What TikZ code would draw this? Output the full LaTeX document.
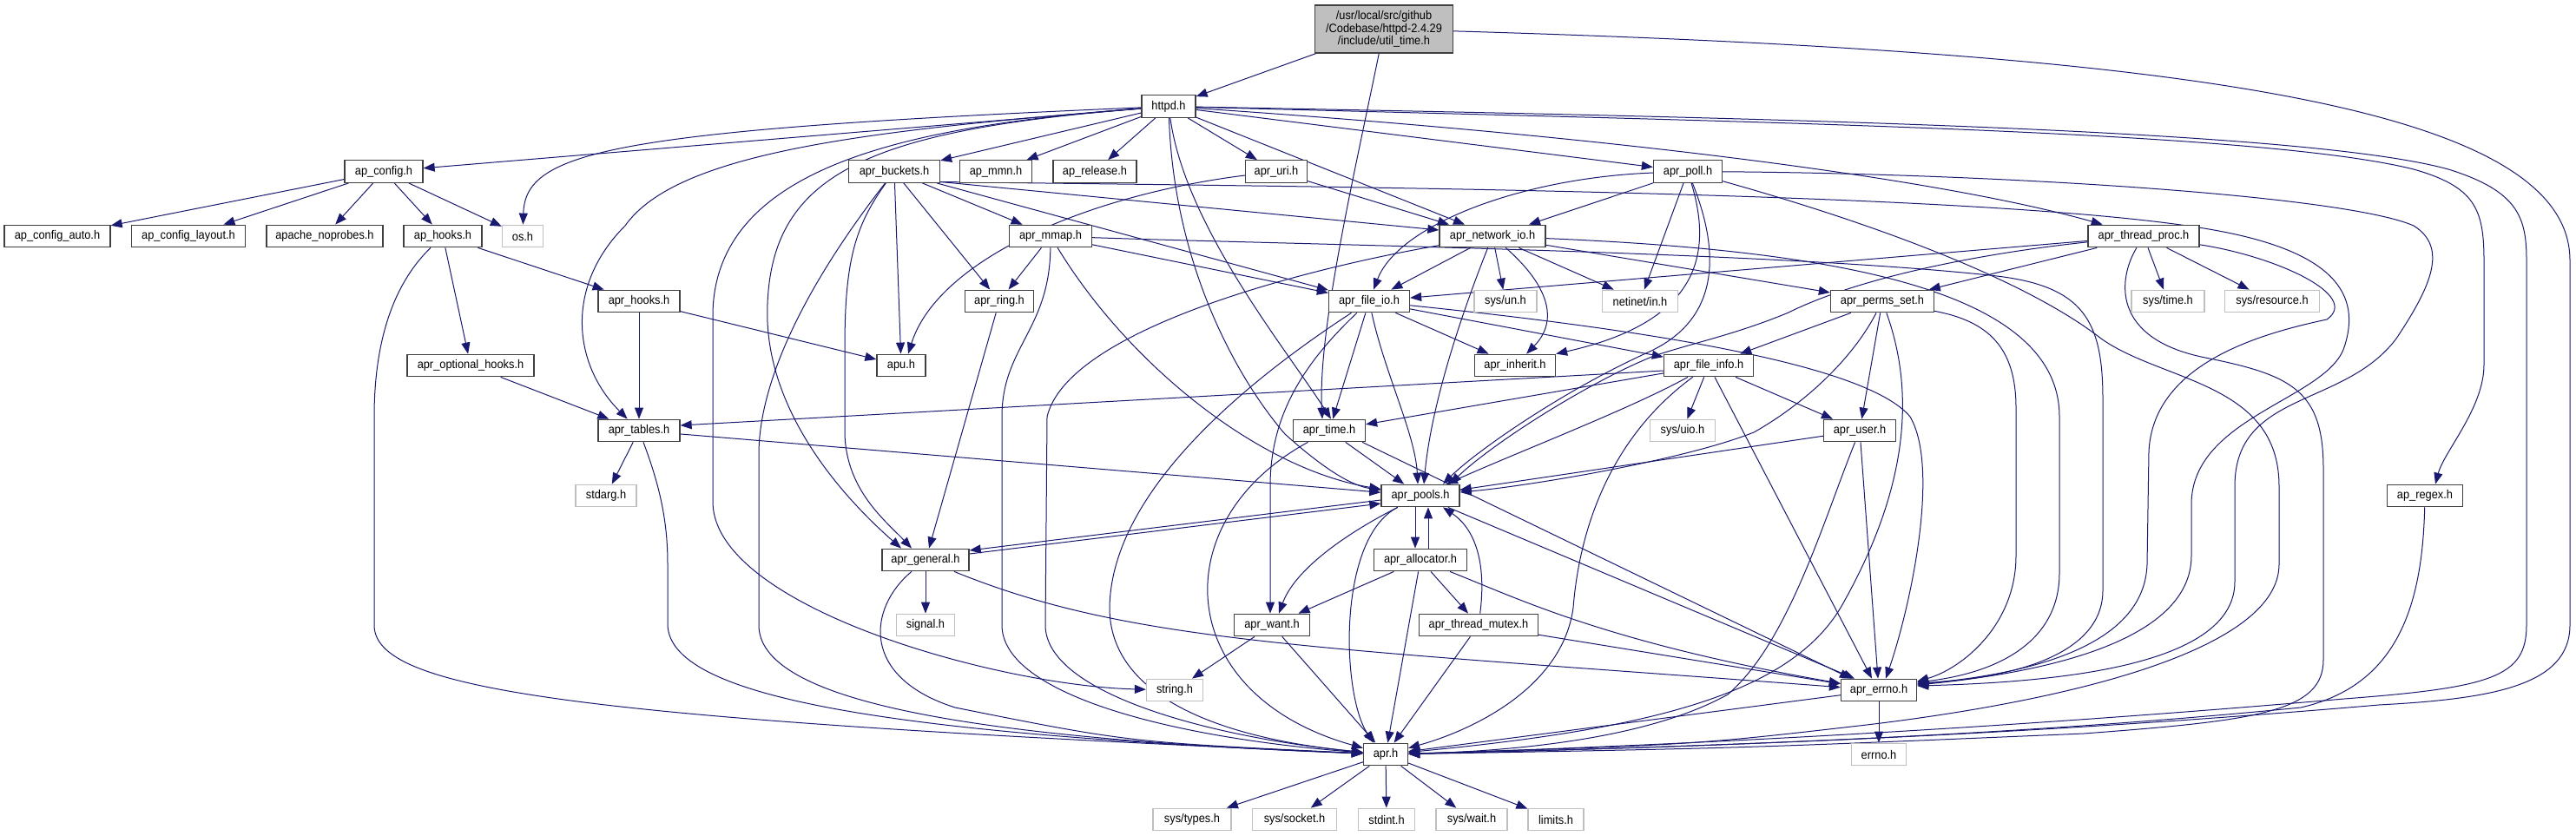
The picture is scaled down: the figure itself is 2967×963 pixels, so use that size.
\documentclass[tikz,border=0pt]{standalone}
\usepackage{fontspec}
\setmainfont{Liberation Sans}[FakeStretch=0.915]
\usetikzlibrary{arrows.meta}
\definecolor{edgec}{HTML}{191970}
\definecolor{grayb}{HTML}{BFBFBF}
\definecolor{boxb}{HTML}{404040}
\pgfdeclarelayer{bg}
\pgfdeclarelayer{edges}
\pgfsetlayers{bg,edges,main}
\tikzset{
  nb/.style={draw=boxb, line width=0.65pt, fill=white, minimum height=12.75pt, inner sep=0pt, font=\fontsize{7pt}{8pt}\selectfont, text=black},
  ng/.style={nb, draw=grayb},
  edg/.style={draw=edgec, line width=0.5pt, -{Triangle[length=6.5pt,width=5pt]}},
}
\begin{document}
\begin{tikzpicture}[x=0.5pt, y=-0.5pt]
\useasboundingbox (0,0) rectangle (2967,963);
\begin{pgfonlayer}{bg}
\fill[white] (0,0) rectangle (2967,963);
\end{pgfonlayer}
% ---------- nodes ----------
\node[nb, fill=grayb, minimum width=79.5pt, minimum height=27.5pt, align=center, font=\fontsize{7pt}{7.25pt}\selectfont] (ut) at (1594,33.5) {/usr/local/src/github\\/Codebase/httpd-2.4.29\\/include/util\_time.h};
\node[nb, minimum width=31pt] (httpd) at (1346,122.5) {httpd.h};
\node[nb, minimum width=45pt] (apconfig) at (442,197.5) {ap\_config.h};
\node[nb, minimum width=52.5pt] (aprbuckets) at (1030,197.5) {apr\_buckets.h};
\node[nb, minimum width=41.5pt] (apmmn) at (1147,197.5) {ap\_mmn.h};
\node[nb, minimum width=48pt] (aprelease) at (1261,197.5) {ap\_release.h};
\node[nb, minimum width=35.5pt] (apruri) at (1470,197.5) {apr\_uri.h};
\node[nb, minimum width=39.5pt] (aprpoll) at (1944,197.5) {apr\_poll.h};
\node[nb, minimum width=61pt] (apconfigauto) at (66,272) {ap\_config\_auto.h};
\node[nb, minimum width=65.5pt] (apconfiglayout) at (217,272) {ap\_config\_layout.h};
\node[nb, minimum width=67pt] (apachenoprobes) at (374,272) {apache\_noprobes.h};
\node[nb, minimum width=45pt] (aphooks) at (510,272) {ap\_hooks.h};
\node[ng, minimum width=23.5pt] (osh) at (602,272) {os.h};
\node[nb, minimum width=47.5pt] (aprmmap) at (1210,272) {apr\_mmap.h};
\node[nb, minimum width=61pt] (aprnetworkio) at (1719,272) {apr\_network\_io.h};
\node[nb, minimum width=64pt] (aprthreadproc) at (2469,272) {apr\_thread\_proc.h};
\node[nb, minimum width=47pt] (aprhooks) at (736,347) {apr\_hooks.h};
\node[nb, minimum width=39.5pt] (aprring) at (1151,347) {apr\_ring.h};
\node[nb, minimum width=46.5pt] (aprfileio) at (1577,347) {apr\_file\_io.h};
\node[ng, minimum width=36pt] (sysun) at (1734,347) {sys/un.h};
\node[ng, minimum width=43.5pt] (netinet) at (1889,347) {netinet/in.h};
\node[nb, minimum width=59.5pt] (aprpermsset) at (2168,347) {apr\_perms\_set.h};
\node[ng, minimum width=42pt] (systime) at (2497,347) {sys/time.h};
\node[ng, minimum width=54.5pt] (sysresource) at (2617,347) {sys/resource.h};
\node[nb, minimum width=73pt] (aproptionalhooks) at (542,421) {apr\_optional\_hooks.h};
\node[nb, minimum width=28pt] (apu) at (1038,421) {apu.h};
\node[nb, minimum width=46.5pt] (aprinherit) at (1745,421) {apr\_inherit.h};
\node[nb, minimum width=51.5pt] (aprfileinfo) at (1968,421) {apr\_file\_info.h};
\node[nb, minimum width=47pt] (aprtables) at (736,496) {apr\_tables.h};
\node[nb, minimum width=41.5pt] (aprtime) at (1531,496) {apr\_time.h};
\node[ng, minimum width=37.5pt] (sysuio) at (1938,496) {sys/uio.h};
\node[nb, minimum width=41.5pt] (apruser) at (2142,496) {apr\_user.h};
\node[ng, minimum width=35pt] (stdarg) at (698,571) {stdarg.h};
\node[nb, minimum width=45pt] (aprpools) at (1636,571) {apr\_pools.h};
\node[nb, minimum width=43.5pt] (apregex) at (2793,571) {ap\_regex.h};
\node[nb, minimum width=50pt] (aprgeneral) at (1066,645) {apr\_general.h};
\node[nb, minimum width=53.5pt] (aprallocator) at (1636,645) {apr\_allocator.h};
\node[ng, minimum width=33.5pt] (signal) at (1066,720) {signal.h};
\node[nb, minimum width=43.5pt] (aprwant) at (1465,720) {apr\_want.h};
\node[nb, minimum width=68.5pt] (aprthreadmutex) at (1703,720) {apr\_thread\_mutex.h};
\node[ng, minimum width=32.5pt] (stringh) at (1353,795) {string.h};
\node[nb, minimum width=43.5pt] (aprerrno) at (2164,795) {apr\_errno.h};
\node[nb, minimum width=25.5pt] (aprh) at (1596,869) {apr.h};
\node[ng, minimum width=31.5pt] (errnoh) at (2164,869) {errno.h};
\node[ng, minimum width=45pt] (systypes) at (1373,944) {sys/types.h};
\node[ng, minimum width=48.5pt] (syssocket) at (1491,944) {sys/socket.h};
\node[ng, minimum width=32.5pt] (stdint) at (1597,944) {stdint.h};
\node[ng, minimum width=41pt] (syswait) at (1695,944) {sys/wait.h};
\node[ng, minimum width=32pt] (limits) at (1792,944) {limits.h};
% ---------- edges ----------
\begin{pgfonlayer}{edges}
% util_time.h
\draw[edg] (ut) -- (httpd);
\draw[edg] (ut) .. controls (1560,200) and (1518,380) .. ([xshift=-4pt]aprtime.north);
\draw[edg] (ut) .. controls (2500,60) and (2960,120) .. (2960,300) -- (2960,720) .. controls (2960,790) and (2870,805) .. (2740,812) .. controls (2300,850) and (1900,862) .. (aprh);
% httpd.h
\draw[edg] (httpd) -- (apconfig);
\draw[edg] (httpd) .. controls (700,150) and (605,175) .. (osh);
\draw[edg] (httpd) .. controls (1000,150) and (780,175) .. (720,260) .. controls (650,330) and (660,420) .. (aprtables);
\draw[edg] (httpd) .. controls (1050,145) and (825,190) .. (821,360) -- (821,580) .. controls (825,700) and (1150,790) .. (stringh);
\draw[edg] (httpd) .. controls (1000,150) and (890,200) .. (884,350) .. controls (878,480) and (985,585) .. ([xshift=-14pt]aprgeneral.north);
\draw[edg] (httpd) -- (aprbuckets);
\draw[edg] (httpd) -- (apmmn);
\draw[edg] (httpd) -- (aprelease);
\draw[edg] (httpd) -- (apruri);
\draw[edg] (httpd) .. controls (1352,300) and (1420,430) .. (1480,500) .. controls (1530,545) and (1560,560) .. (aprpools);
\draw[edg] (httpd) .. controls (1365,260) and (1480,400) .. ([xshift=1pt]aprtime.north);
\draw[edg] (httpd) -- ([xshift=-16pt]aprnetworkio.north);
\draw[edg] (httpd) -- (aprpoll);
\draw[edg] (httpd) .. controls (1900,160) and (2250,210) .. (aprthreadproc);
\draw[edg] (httpd) .. controls (2000,140) and (2600,150) .. (2780,195) .. controls (2850,215) and (2861,240) .. (2861,300) -- (2861,420) .. controls (2861,470) and (2815,520) .. ([xshift=6pt]apregex.north);
\draw[edg] (httpd) .. controls (2000,135) and (2650,148) .. (2820,195) .. controls (2900,220) and (2910,250) .. (2910,300) -- (2910,720) .. controls (2910,780) and (2870,792) .. (2700,805) .. controls (2300,840) and (1900,860) .. (aprh);
% ap_config.h
\draw[edg] (apconfig) -- (apconfigauto);
\draw[edg] (apconfig) -- (apconfiglayout);
\draw[edg] (apconfig) -- (apachenoprobes);
\draw[edg] (apconfig) -- (aphooks);
\draw[edg] (apconfig) -- (osh);
% ap_hooks.h
\draw[edg] (aphooks) -- (aprhooks);
\draw[edg] (aphooks) -- (aproptionalhooks);
\draw[edg] (aphooks) .. controls (460,320) and (431,380) .. (431,480) -- (431,720) .. controls (431,795) and (660,828) .. (aprh);
% apr_hooks.h, apr_optional_hooks.h
\draw[edg] (aprhooks) -- (apu);
\draw[edg] (aprhooks) -- (aprtables);
\draw[edg] (aproptionalhooks) -- (aprtables);
% apr_buckets.h
\draw[edg] (aprbuckets) -- (apu);
\draw[edg] (aprbuckets) -- (aprring);
\draw[edg] (aprbuckets) -- (aprmmap);
\draw[edg] ([yshift=-6pt]aprbuckets.east) -- ([yshift=3.5pt]aprnetworkio.west);
\draw[edg] (aprbuckets) -- (aprfileio);
\draw[edg] (aprbuckets) .. controls (985,260) and (973,300) .. (973,400) -- (973,500) .. controls (975,565) and (1020,600) .. ([xshift=-8pt]aprgeneral.north);
\draw[edg] (aprbuckets) .. controls (950,300) and (876,420) .. (874,520) -- (874,720) .. controls (874,805) and (1100,850) .. (aprh);
\draw[edg] ([yshift=-6pt]aprbuckets.east) .. controls (1500,215) and (2300,220) .. (2550,265) .. controls (2690,290) and (2720,340) .. (2700,400) .. controls (2680,460) and (2525,480) .. (2524,580) -- (2524,640) .. controls (2524,740) and (2350,775) .. ([yshift=3pt]aprerrno.east);
% apr_mmap.h
\draw[edg] (aprmmap) -- (aprring);
\draw[edg] (aprmmap) -- (aprfileio);
\draw[edg] (aprmmap) .. controls (1300,420) and (1450,540) .. (aprpools);
\draw[edg] (aprmmap) .. controls (1209,380) and (1154,400) .. (1154,480) -- (1154,720) .. controls (1154,800) and (1350,850) .. (aprh);
\draw[edg] (aprmmap) .. controls (1500,282) and (2050,290) .. (2300,318) .. controls (2400,330) and (2422,370) .. (2422,460) -- (2422,680) .. controls (2422,750) and (2330,780) .. ([yshift=4pt]aprerrno.east);
% apr_network_io.h
\draw[edg] (aprnetworkio) -- (aprfileio);
\draw[edg] (aprnetworkio) -- (sysun);
\draw[edg] (aprnetworkio) -- (netinet);
\draw[edg] (aprnetworkio) .. controls (1785,330) and (1795,370) .. (aprinherit);
\draw[edg] (aprnetworkio) -- (aprpermsset);
\draw[edg] (aprnetworkio) .. controls (1680,370) and (1648,470) .. ([xshift=2pt]aprpools.north);
\draw[edg] (aprnetworkio) .. controls (1500,310) and (1230,380) .. (1206,480) -- (1204,720) .. controls (1204,800) and (1400,850) .. (aprh);
\draw[edg] (aprnetworkio) .. controls (2100,288) and (2372,330) .. (2372,480) -- (2372,660) .. controls (2372,740) and (2300,775) .. ([yshift=4.5pt]aprerrno.east);
% apr_poll.h
\draw[edg] (aprpoll) -- ([xshift=21pt]aprnetworkio.north);
\draw[edg] (aprpoll) .. controls (1750,205) and (1610,260) .. (aprfileio);
\draw[edg] (aprpoll) -- (netinet);
\draw[edg] (aprpoll) .. controls (1972,290) and (1960,370) .. (aprinherit.north east);
\draw[edg] (aprpoll) .. controls (1985,300) and (1975,370) .. (1900,405) .. controls (1800,450) and (1700,520) .. ([xshift=13pt]aprpools.north);
\draw[edg] (aprpoll) .. controls (2300,200) and (2700,225) .. (2780,260) .. controls (2820,285) and (2800,330) .. (2760,390) .. controls (2700,470) and (2574,450) .. (2574,560) -- (2574,670) .. controls (2574,760) and (2400,785) .. ([yshift=2.5pt]aprerrno.east);
\draw[edg] (aprpoll) .. controls (2150,255) and (2330,320) .. (2420,390) .. controls (2490,440) and (2625,440) .. (2625,560) -- (2625,650) .. controls (2625,745) and (2400,805) .. (2150,835) .. controls (1950,858) .. (aprh);
% apr_thread_proc.h
\draw[edg] (aprthreadproc) -- (systime);
\draw[edg] (aprthreadproc) -- (sysresource);
\draw[edg] (aprthreadproc) -- (aprpermsset);
\draw[edg] (aprthreadproc) -- (aprfileio);
\draw[edg] (aprthreadproc) .. controls (2280,292) and (2140,320) .. (2060,360) .. controls (2000,385) and (1950,395) .. (1905,410) .. controls (1830,440) and (1720,510) .. ([xshift=17pt]aprpools.north);
\draw[edg] (aprthreadproc) .. controls (2620,295) and (2720,340) .. (2680,368) .. controls (2600,385) and (2480,420) .. (2475,520) -- (2473,650) .. controls (2470,740) and (2350,775) .. ([yshift=3.5pt]aprerrno.east);
\draw[edg] (aprthreadproc) .. controls (2440,320) and (2430,390) .. (2540,412) .. controls (2640,432) and (2676,450) .. (2676,540) -- (2676,760) .. controls (2676,820) and (2600,830) .. (2400,845) .. controls (2000,862) .. (aprh);
% apr_file_io.h
\draw[edg] (aprfileio) -- (aprinherit);
\draw[edg] (aprfileio) -- (aprfileinfo);
\draw[edg] (aprfileio) .. controls (1900,380) and (2150,420) .. (2200,480) .. controls (2235,540) and (2200,700) .. ([xshift=4pt]aprerrno.north);
\draw[edg] (aprfileio) -- (aprtime);
\draw[edg] (aprfileio) .. controls (1595,430) and (1630,500) .. ([xshift=-1.5pt]aprpools.north);
\draw[edg] (aprfileio) .. controls (1500,420) and (1463,480) .. (1463,560) -- ([xshift=-1pt]aprwant.north);
\draw[edg] (aprfileio) .. controls (1450,430) and (1280,560) .. (1278,700) .. controls (1278,800) and (1400,850) .. (aprh);
% apr_perms_set.h
\draw[edg] (aprpermsset) -- (aprfileinfo);
\draw[edg] (aprpermsset) -- (apruser);
\draw[edg] (aprpermsset) .. controls (2130,420) and (2070,470) .. (2020,498) .. controls (1940,530) and (1760,560) .. (aprpools);
\draw[edg] (aprpermsset) .. controls (2205,450) and (2200,560) .. (2120,700) .. controls (2060,800) and (1900,840) .. (aprh);
\draw[edg] (aprpermsset) .. controls (2290,370) and (2322,400) .. (2322,470) -- (2322,640) .. controls (2322,720) and (2260,770) .. ([yshift=5pt]aprerrno.east);
% apr_file_info.h
\draw[edg] (aprfileinfo) -- (apruser);
\draw[edg] (aprfileinfo) -- (sysuio);
\draw[edg] (aprfileinfo) -- (aprtime);
\draw[edg] ([yshift=-3pt]aprfileinfo.west) -- ([yshift=3pt]aprtables.east);
\draw[edg] (aprfileinfo) .. controls (1880,470) and (1750,520) .. (aprpools);
\draw[edg] (aprfileinfo) -- ([xshift=-4pt]aprerrno.north);
\draw[edg] (aprfileinfo) .. controls (1860,500) and (1820,600) .. (1812,700) .. controls (1800,790) and (1700,840) .. (aprh);
% apr_user.h
\draw[edg] (apruser) -- (aprerrno);
\draw[edg] (apruser) -- (aprpools);
\draw[edg] (apruser) .. controls (2100,600) and (2060,740) .. (1990,800) .. controls (1900,850) and (1750,865) .. (aprh);
% apr_time.h
\draw[edg] (aprtime) -- (aprpools);
\draw[edg] ([xshift=-2pt]aprtime.south east) -- ([xshift=-16pt]aprerrno.north);
\draw[edg] (aprtime) .. controls (1340,600) and (1350,800) .. (aprh);
% apr_tables.h
\draw[edg] (aprtables) -- (stdarg);
\draw[edg] (aprtables) -- (aprpools);
\draw[edg] (aprtables) .. controls (760,560) and (769,600) .. (769,650) -- (769,720) .. controls (772,800) and (1000,845) .. (aprh);
% apr_ring.h, apr_uri.h
\draw[edg] (aprring) -- ([xshift=2pt]aprgeneral.north);
\draw[edg] (apruri) .. controls (1250,225) and (1080,300) .. ([xshift=4pt]apu.north);
\draw[edg] (apruri) -- ([xshift=-25pt]aprnetworkio.north);
% apr_pools.h
\draw[edg] ([yshift=-2.5pt]aprpools.west) -- ([yshift=5.5pt]aprgeneral.east);
\draw[edg] ([yshift=3.5pt]aprgeneral.east) -- ([yshift=-4.5pt]aprpools.west);
\draw[edg] ([xshift=-3pt]aprpools.south) -- ([xshift=-3pt]aprallocator.north);
\draw[edg] ([xshift=4.5pt]aprallocator.north) -- ([xshift=4.5pt]aprpools.south);
\draw[edg] (aprpools) .. controls (1540,620) and (1490,660) .. ([xshift=4pt]aprwant.north);
\draw[edg] (aprpools) .. controls (1540,620) and (1545,800) .. ([xshift=-7pt]aprh.north);
\draw[edg] (aprpools) -- ([xshift=-14pt]aprerrno.north);
% apr_general.h
\draw[edg] (aprgeneral) -- (signal);
\draw[edg] (aprgeneral) .. controls (1000,700) and (990,780) .. (1100,815) .. controls (1300,855) .. (aprh);
\draw[edg] (aprgeneral) .. controls (1300,740) and (1500,745) .. (aprerrno);
% apr_allocator.h
\draw[edg] (aprallocator) -- (aprwant);
\draw[edg] (aprallocator) -- (aprthreadmutex);
\draw[edg] (aprallocator) -- (aprh);
\draw[edg] (aprallocator) .. controls (1750,690) and (1850,740) .. (aprerrno);
% apr_thread_mutex.h
\draw[edg] (aprthreadmutex) .. controls (1712,650) and (1700,610) .. ([xshift=13pt]aprpools.south);
\draw[edg] (aprthreadmutex) -- (aprerrno);
\draw[edg] (aprthreadmutex) -- (aprh);
% apr_want.h
\draw[edg] (aprwant) -- (stringh);
\draw[edg] (aprwant) -- (aprh);
% apr_errno.h
\draw[edg] (aprerrno) -- (errnoh);
\draw[edg] (aprerrno) -- (aprh);
% ap_regex.h
\draw[edg] (apregex) .. controls (2790,700) and (2760,790) .. (2650,815) .. controls (2300,850) and (1900,862) .. (aprh);
% apr.h
\draw[edg] (aprh) -- (systypes);
\draw[edg] (aprh) -- (syssocket);
\draw[edg] (aprh) -- (stdint);
\draw[edg] (aprh) -- (syswait);
\draw[edg] (aprh) -- (limits);
\end{pgfonlayer}
\end{tikzpicture}
\end{document}
